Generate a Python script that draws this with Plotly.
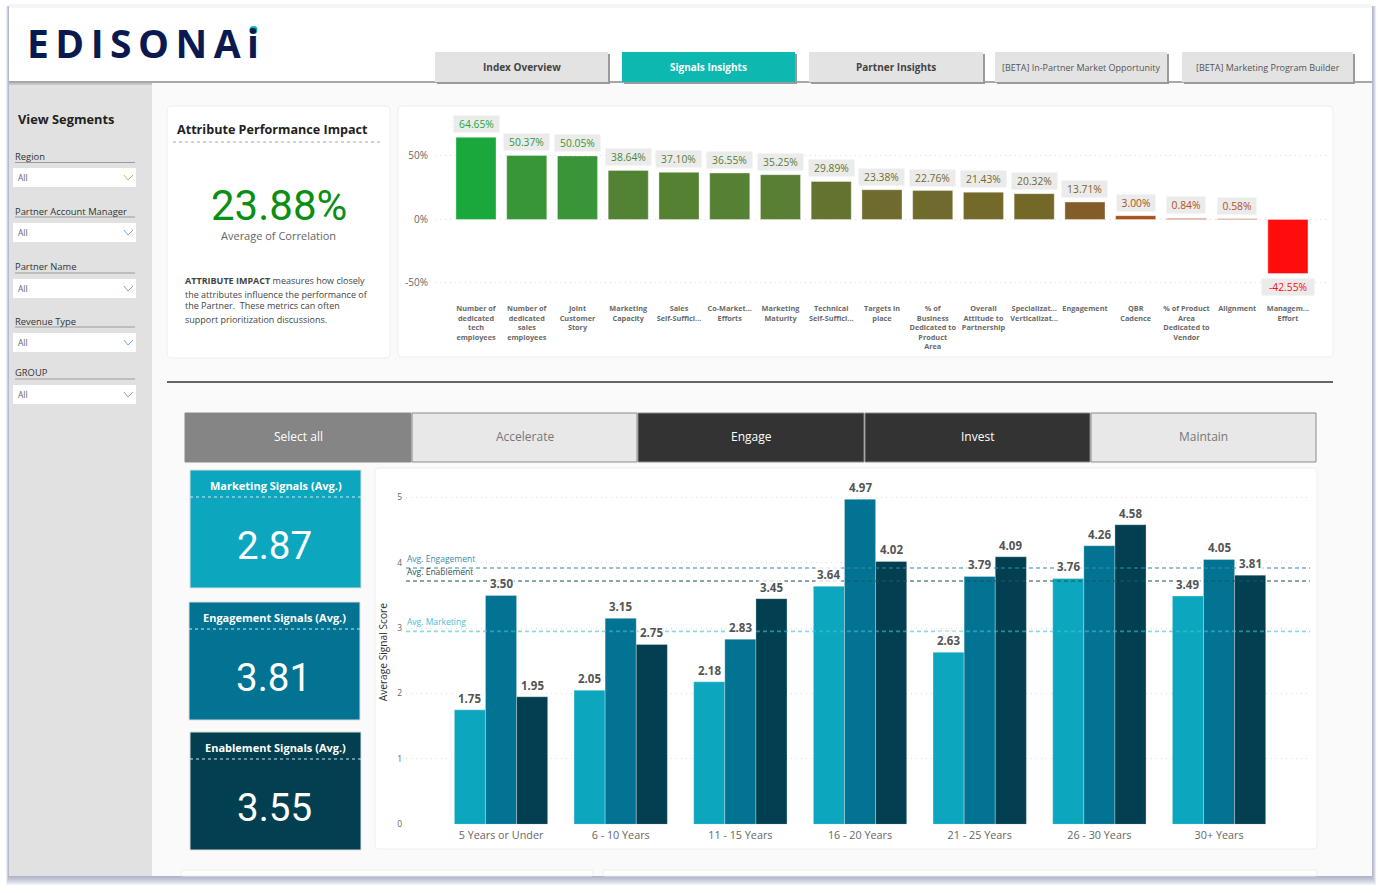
import plotly.graph_objects as go

W = 1381
H = 893
FONT = "Open Sans"

# top chart data
attr_names = [
    "Number of<br>dedicated<br>tech<br>employees", "Number of<br>dedicated<br>sales<br>employees",
    "Joint<br>Customer<br>Story", "Marketing<br>Capacity", "Sales<br>Self-Suffici...",
    "Co-Market...<br>Efforts", "Marketing<br>Maturity", "Technical<br>Self-Suffici...",
    "Targets in<br>place", "% of<br>Business<br>Dedicated to<br>Product<br>Area",
    "Overall<br>Attitude to<br>Partnership", "Specializat...<br>Verticalizat...", "Engagement",
    "QBR<br>Cadence", "% of Product<br>Area<br>Dedicated to<br>Vendor", "Alignment",
    "Managem...<br>Effort",
]
attr_values = [64.65, 50.37, 50.05, 38.64, 37.10, 36.55, 35.25, 29.89, 23.38, 22.76, 21.43,
               20.32, 13.71, 3.00, 0.84, 0.58, -42.55]
attr_colors = ["#1aa83d", "#389637", "#399537", "#528334", "#558133", "#568033", "#587f33",
               "#647330", "#6f6b2c", "#706a2c", "#73692b", "#746829", "#835d28", "#a85020",
               "#b05024", "#b25024", "#ff0d0d"]

# bottom chart data
tenure = ["5 Years or Under", "6 - 10 Years", "11 - 15 Years", "16 - 20 Years",
          "21 - 25 Years", "26 - 30 Years", "30+ Years"]
marketing = [1.75, 2.05, 2.18, 3.64, 2.63, 3.76, 3.49]
engagement = [3.50, 3.15, 2.83, 4.97, 3.79, 4.26, 4.05]
enablement = [1.95, 2.75, 3.45, 4.02, 4.09, 4.58, 3.81]
avg_lines = [("Avg. Engagement", 3.92), ("Avg. Enablement", 3.72), ("Avg. Marketing", 2.95)]
avg_line_colors = ["rgba(60,140,165,0.7)", "rgba(30,85,100,0.7)", "rgba(70,190,210,0.6)"]
avg_text_colors = ["#3c8ca5", "#1e5564", "#46bed2"]

TEAL = "#0ca7bf"
BLUE = "#027392"
DARK = "#023f50"

# dashboard furniture
tabs = ["Index Overview", "Signals Insights", "Partner Insights",
        "[BETA] In-Partner Market Opportunity", "[BETA] Marketing Program Builder"]
tab_edges = [(435, 608), (622, 795), (809, 983), (995, 1167), (1182, 1353)]
filters = ["Region", "Partner Account Manager", "Partner Name", "Revenue Type", "GROUP"]
filter_rows = [(157, 162.5, 168), (211, 217, 223), (266.5, 273, 279), (321, 327, 333), (372.5, 379, 385)]
impact_lines = ["<b>ATTRIBUTE IMPACT</b> measures how closely", "the attributes influence the performance of",
                "the Partner.  These metrics can often", "support prioritization discussions."]
impact_rows = [281, 294, 306, 319]
buttons = ["Select all", "Accelerate", "Engage", "Invest", "Maintain"]
button_edges = [(185, 411), (412, 637), (638, 864), (865, 1090), (1091, 1316)]
button_fill = ["#858585", "#e8e8e8", "#333333", "#333333", "#e8e8e8"]
button_text = ["#ffffff", "#777777", "#ffffff", "#ffffff", "#777777"]
cards = ["Marketing Signals (Avg.)", "Engagement Signals (Avg.)", "Enablement Signals (Avg.)"]
card_values = ["2.87", "3.81", "3.55"]
card_boxes = [(190, 361, 470, 588), (189, 360, 602, 720), (190, 361, 732, 850)]
card_colors = [TEAL, BLUE, DARK]


def px(x):
    return x / W


def py(y):
    return 1 - y / H


shapes = []
notes = []


def box(x0, x1, y0, y1, fill, line=None, lw=1):
    shapes.append(dict(type="rect", xref="paper", yref="paper", x0=px(x0), x1=px(x1),
                       y0=py(y0), y1=py(y1), fillcolor=fill, layer="below",
                       line=dict(color=line or "rgba(0,0,0,0)", width=lw if line else 0)))


def panel(x0, x1, y0, y1, fill="#ffffff", line="#eeeeee", r=4):
    p = (f"M {px(x0 + r)} {py(y0)} L {px(x1 - r)} {py(y0)} Q {px(x1)} {py(y0)} {px(x1)} {py(y0 + r)} "
         f"L {px(x1)} {py(y1 - r)} Q {px(x1)} {py(y1)} {px(x1 - r)} {py(y1)} "
         f"L {px(x0 + r)} {py(y1)} Q {px(x0)} {py(y1)} {px(x0)} {py(y1 - r)} "
         f"L {px(x0)} {py(y0 + r)} Q {px(x0)} {py(y0)} {px(x0 + r)} {py(y0)} Z")
    shapes.append(dict(type="path", xref="paper", yref="paper", path=p, fillcolor=fill,
                       layer="below", line=dict(color=line, width=1)))


def hline(x0, x1, y, color, width=1, dash="solid"):
    shapes.append(dict(type="line", xref="paper", yref="paper", x0=px(x0), x1=px(x1),
                       y0=py(y), y1=py(y), layer="below", line=dict(color=color, width=width, dash=dash)))


def text(x, y, s, size, color, bold=False, anchor="center", family=FONT):
    if bold:
        s = f"<b>{s}</b>"
    # annotations carry about 2px of inner padding, left aligned ones get pulled back
    if anchor == "left":
        x -= 2
    notes.append(dict(xref="paper", yref="paper", x=px(x), y=py(y), text=s, showarrow=False,
                      xanchor=anchor, yanchor="middle", align="left" if anchor == "left" else "center",
                      font=dict(size=size, color=color, family=family)))


# frame and its soft shadow
for i in range(7, 0, -1):
    box(9 - i * 0.4, 1372 + i * 0.6, 6, 876 + i * 1.3, "rgba(80,90,140,0.08)")
box(9, 1372, 4, 876, "#fafafa")
box(9, 1372, 4, 8, "#f4f5f8")
box(9, 1372, 8, 81, "#ffffff")
box(9, 1372, 81, 83, "#a8a8a8")
box(9, 152, 83, 876, "#e1e1e1")
box(9, 152, 83, 85, "#c6c6c6")

# logo
text(27, 43, "E\u2009D\u2009I\u2009S\u2009O\u2009N\u2009A\u2009i", 39, "#0a1a50", bold=True, anchor="left")
logo_dot = dict(type="circle", xref="paper", yref="paper", x0=px(249.5), x1=px(257.5),
                y0=py(26), y1=py(34), fillcolor="#0cb8b0", line=dict(width=0), layer="above")

# tabs
for k, (name, (x0, x1)) in enumerate(zip(tabs, tab_edges)):
    box(x0 + 2, x1 + 2, 54, 84, "#9a9a9a")
    box(x0, x1, 52, 82, "#0cb8b0" if k == 1 else "#e3e3e3")
    if k < 3:
        text((x0 + x1) / 2, 67.5, name, 10, "#ffffff" if k == 1 else "#444444", bold=True)
    else:
        text((x0 + x1) / 2, 67.5, name, 9, "#555555")

# sidebar
text(18, 119, "View Segments", 12.8, "#222222", bold=True, anchor="left")
for k, (name, (ly, ry, by)) in enumerate(zip(filters, filter_rows)):
    text(15, ly, name, 9.4, "#333333", anchor="left")
    hline(15, 135, ry, "#9a9a9a", 1)
    box(13, 136, by, by + 19, "#ffffff")
    text(18, by + 9.5, "All", 8.5, "#666666", anchor="left")
    chev = "#d8b060" if k == 0 else "#7aa7d0"
    shapes.append(dict(type="path", xref="paper", yref="paper", layer="below",
                       path=f"M {px(124)} {py(by + 7)} L {px(128)} {py(by + 12)} L {px(133)} {py(by + 7)}",
                       line=dict(color=chev, width=1)))

# attribute panel
panel(167, 390, 106, 358)
text(177, 129, "Attribute Performance Impact", 12.6, "#222222", bold=True, anchor="left")
hline(173, 383, 142, "#aaaaaa", 1, "dot")
text(278.5, 205, "23.88%", 42, "#0a8f14", family="Roboto")
text(278.5, 236, "Average of Correlation", 11, "#666666")
for line, row in zip(impact_lines, impact_rows):
    text(185, row, line, 9, "#444444", anchor="left")

panel(398, 1333, 106, 357)
hline(167, 1333, 382, "#333333", 1.5)

# segment buttons
for name, (x0, x1), fill, col in zip(buttons, button_edges, button_fill, button_text):
    box(x0, x1, 413, 462, fill, "#8a8a8a")
    text((x0 + x1) / 2, 437, name, 12, col)

# kpi cards
for name, val, (x0, x1, y0, y1), col in zip(cards, card_values, card_boxes, card_colors):
    box(x0, x1, y0, y1, col, "#dddddd", 1)
    text((x0 + x1) / 2, y0 + 15, name, 11, "#ffffff", bold=True)
    hline(x0, x1, y0 + 27, "#d5e8ee", 1, "dot")
    text((x0 + x1) / 2 - 1, y0 + 75, val, 38.5, "#ffffff", family="Roboto")

panel(375, 1317, 468, 849)
panel(181, 593, 870, 876, r=2)
panel(603, 1317, 870, 876, r=2)

fig = go.Figure()

# top chart, one bar per attribute
fig.add_trace(go.Bar(x=attr_names, y=attr_values,
                     marker=dict(color=attr_colors, line=dict(color="rgba(255,255,255,0.35)", width=1)),
                     xaxis="x", yaxis="y", width=0.79, showlegend=False))
for name, val, col in zip(attr_names, attr_values, attr_colors):
    label = f"{val:.2f}%"
    notes.append(dict(xref="x", yref="y", x=name, y=val, text=label, showarrow=False,
                      yanchor="bottom" if val >= 0 else "top", yshift=4 if val >= 0 else -4,
                      width=len(label) * 7 + 2, height=15, bgcolor="#ebebeb", borderpad=0.5,
                      font=dict(size=10.3, color=col, family=FONT)))

# bottom chart, three grouped series
for series, col, label in [(marketing, TEAL, "Marketing"), (engagement, BLUE, "Engagement"), (enablement, DARK, "Enablement")]:
    fig.add_trace(go.Bar(x=tenure, y=series, name=label, xaxis="x2", yaxis="y2", showlegend=False,
                         marker=dict(color=col, line=dict(color="rgba(255,255,255,0.3)", width=1))))

sub_w = (1 - 0.22) / 3
for offset, series in zip([-1, 0, 1], [marketing, engagement, enablement]):
    for idx, val in enumerate(series):
        notes.append(dict(xref="x2", yref="y2", x=idx + offset * sub_w, y=val, text=f"<b>{val:.2f}</b>",
                          showarrow=False, yanchor="bottom", yshift=2, bgcolor="rgba(255,255,255,0.8)", borderpad=1,
                          font=dict(size=11.5, color="#555555", family=FONT)))

for (label, val), col, tcol in zip(avg_lines, avg_line_colors, avg_text_colors):
    shapes.append(dict(type="line", xref="x2 domain", yref="y2", x0=0, x1=1, y0=val, y1=val, layer="above",
                       line=dict(color=col, width=1.6, dash="4px,3px")))
    notes.append(dict(xref="paper", yref="y2", x=px(405), y=val, text=label, showarrow=False, xanchor="left",
                      yanchor="bottom", yshift=2, font=dict(size=8.5, color=tcol, family=FONT)))

shapes.append(logo_dot)

fig.update_layout(
    width=W, height=H, autosize=False, margin=dict(l=0, r=0, t=0, b=0),
    paper_bgcolor="#ffffff", plot_bgcolor="rgba(0,0,0,0)", barmode="group", bargap=0.22, bargroupgap=0,
    font=dict(family=FONT), shapes=shapes, annotations=notes,
    xaxis=dict(domain=[px(435), px(1327)], range=[-0.808, 16.77], type="category", tickangle=0, showgrid=False,
               tickvals=attr_names, ticktext=[f"<b>{n}</b>" for n in attr_names], ticklabelstandoff=3,
               zeroline=False, showline=False, tickfont=dict(size=7.3, color="#6a6a6a", family=FONT),
               automargin=False, anchor="y"),
    yaxis=dict(domain=[py(300), py(120)], range=[-63.4, 78.3], tickvals=[-50, 0, 50], ticktext=["-50%", "0%", "50%"],
               showgrid=True, gridcolor="#dcdcdc", griddash="1px,4px", zeroline=False, showline=False,
               ticklabelstandoff=6, tickfont=dict(size=10, color="#666666"), automargin=False, anchor="x"),
    xaxis2=dict(domain=[px(406), px(1310)], range=[-0.794, 6.76], type="category", tickangle=0, showgrid=False,
                ticklabelstandoff=3, zeroline=False, showline=False, tickfont=dict(size=10.8, color="#666666"),
                automargin=False, anchor="y2"),
    yaxis2=dict(domain=[py(824.3), py(480)], range=[0, 5.265], tickvals=[0, 1, 2, 3, 4, 5],
                showgrid=True, gridcolor="#dcdcdc", griddash="1px,4px", zeroline=False, showline=False,
                ticklabelstandoff=3, tickfont=dict(size=8.5, color="#666666"), automargin=False, anchor="x2",
                title=dict(text="Average Signal Score", font=dict(size=10.2, color="#333333"), standoff=7)),
)

fig.write_html("out.html", config={"displayModeBar": False}, post_script="document.body.style.margin='0';")
